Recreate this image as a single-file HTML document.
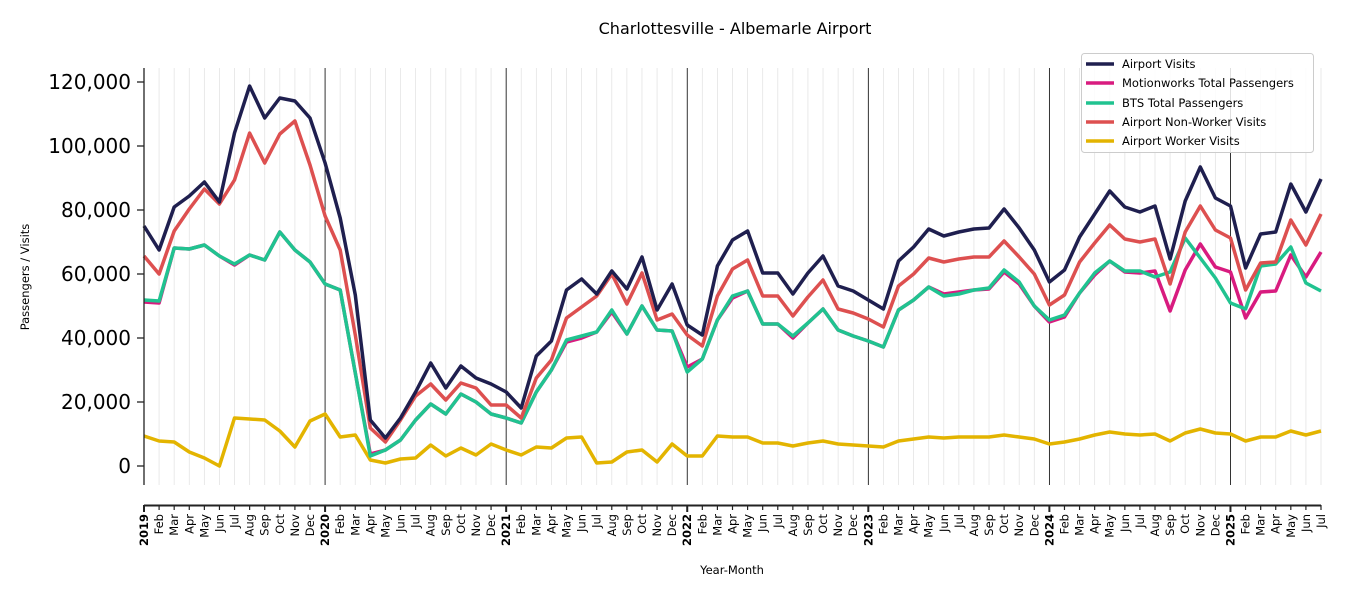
<!DOCTYPE html>
<html><head><meta charset="utf-8"><style>
body{margin:0;background:#fff;}
svg{font-family:"DejaVu Sans","Liberation Sans",sans-serif;}
</style></head><body>
<svg id="s" width="1350" height="600" xmlns="http://www.w3.org/2000/svg">
<text x="735" y="34" font-size="16" text-anchor="middle">Charlottesville - Albemarle Airport</text>
<g id="grid"></g>
<g id="series" fill="none" stroke-width="3.5" stroke-linejoin="round"></g>
<line x1="144" y1="68" x2="144" y2="485" stroke="#222" stroke-width="1.3"/>
<line x1="144" y1="505.5" x2="1321" y2="505.5" stroke="#222" stroke-width="2"/>
<g id="yt" font-size="20" text-anchor="end"></g>
<g id="xt" font-size="11.5"></g>
<text x="29" y="277" font-size="11.5" text-anchor="middle" transform="rotate(-90 29 277)">Passengers / Visits</text>
<text x="732" y="574" font-size="11.5" text-anchor="middle">Year-Month</text>
<g>
<rect x="1081.5" y="53.5" width="232" height="99" rx="3" fill="#fff" fill-opacity="0.85" stroke="#ccc"/>
<line x1="1086" y1="64" x2="1114" y2="64" stroke="#1f1f4f" stroke-width="3.5"/>
<line x1="1086" y1="83" x2="1114" y2="83" stroke="#d81b7f" stroke-width="3.5"/>
<line x1="1086" y1="103" x2="1114" y2="103" stroke="#20c390" stroke-width="3.5"/>
<line x1="1086" y1="122" x2="1114" y2="122" stroke="#dd5050" stroke-width="3.5"/>
<line x1="1086" y1="141" x2="1114" y2="141" stroke="#e3b400" stroke-width="3.5"/>
<g font-size="11.5"><text x="1122" y="68">Airport Visits</text><text x="1122" y="87">Motionworks Total Passengers</text><text x="1122" y="107">BTS Total Passengers</text><text x="1122" y="126">Airport Non-Worker Visits</text><text x="1122" y="145">Airport Worker Visits</text></g>
</g>
</svg>
<script>
const NS="http://www.w3.org/2000/svg";
const X=i=>144+i*(1177/78);
function el(t,a,p,txt){const e=document.createElementNS(NS,t);for(const k in a)e.setAttribute(k,a[k]);if(txt!==undefined)e.textContent=txt;document.getElementById(p).appendChild(e);}
const mon=["Jan","Feb","Mar","Apr","May","Jun","Jul","Aug","Sep","Oct","Nov","Dec"];
for(let i=0;i<79;i++){const x=X(i);const yr=i%12==0;
el("line",{x1:x,y1:68,x2:x,y2:485,stroke:yr?"#000":"#e4e4e4","stroke-width":yr?0.8:0.8},"grid");
el("line",{x1:x,y1:505,x2:x,y2:yr?512:510,stroke:"#222","stroke-width":yr?2:1.2},"grid");
const lbl=yr?String(2019+i/12):mon[i%12];
const ty=514;
el("text",{x:x+4,y:ty,transform:`rotate(-90 ${x+4} ${ty})`,"text-anchor":"end","font-weight":yr?"bold":"normal"},"xt",lbl);}
for(let v=0;v<=120000;v+=20000){const y=466-v*0.0032;el("text",{x:131,y:y+7},"yt",v.toLocaleString("en-US"));el("line",{x1:137,y1:y,x2:144,y2:y,stroke:"#222","stroke-width":1.3},"yt");}
const D={
"#e3b400":[436,441,442,452,458,466,418,419,420,431,447,421,414,437,435,460,463,459,458,445,456,448,455,444,450,455,447,448,438,437,463,462,452,450,462,444,456,456,436,437,437,443,443,446,443,441,444,445,446,447,441,439,437,438,437,437,437,435,437,439,444,442,439,435,432,434,435,434,441,433,429,433,434,441,437,437,431,435,431],
"#d81b7f":[302,303,248,249,245,256,265,255,260,232,250,262,284,290,373,454,450,440,420,404,414,394,402,414,418,423,392,370,342,338,332,312,334,306,330,331,367,359,320,298,291,324,324,338,323,309,330,336,341,347,310,300,287,294,292,290,289,272,284,306,322,317,293,275,261,272,273,271,311,270,244,267,272,318,292,291,255,277,252],
"#20c390":[300,301,248,249,245,256,264,255,260,232,250,262,284,290,373,456,450,440,420,404,414,394,402,414,418,423,392,370,340,336,332,310,334,306,330,331,372,359,320,296,291,324,324,336,323,309,330,336,341,347,310,300,287,296,294,290,288,270,282,306,320,315,293,273,261,271,271,277,272,238,258,278,303,309,266,264,247,283,291],
"#dd5050":[256,274,231,209,189,204,180,133,163,134,121,165,216,250,335,428,442,420,396,384,400,383,388,405,405,418,378,360,318,307,296,274,304,273,320,314,335,346,296,269,260,296,296,316,297,280,309,313,319,327,286,274,258,262,259,257,257,241,257,274,305,295,262,243,225,239,242,239,284,232,206,230,238,290,263,262,220,245,214],
"#1f1f4f":[226,250,207,196,182,202,133,86,118,98,101,118,163,218,295,420,438,418,392,363,388,366,378,384,392,408,356,341,290,279,294,271,289,257,310,284,325,335,266,240,231,273,273,294,273,256,286,291,300,309,261,247,229,236,232,229,228,209,228,250,282,270,237,214,191,207,212,206,259,201,167,198,206,268,234,232,184,212,179]};
for(const c in D){el("polyline",{stroke:c,points:D[c].map((y,i)=>X(i).toFixed(1)+","+y).join(" ")},"series");}
</script>
</body></html>
